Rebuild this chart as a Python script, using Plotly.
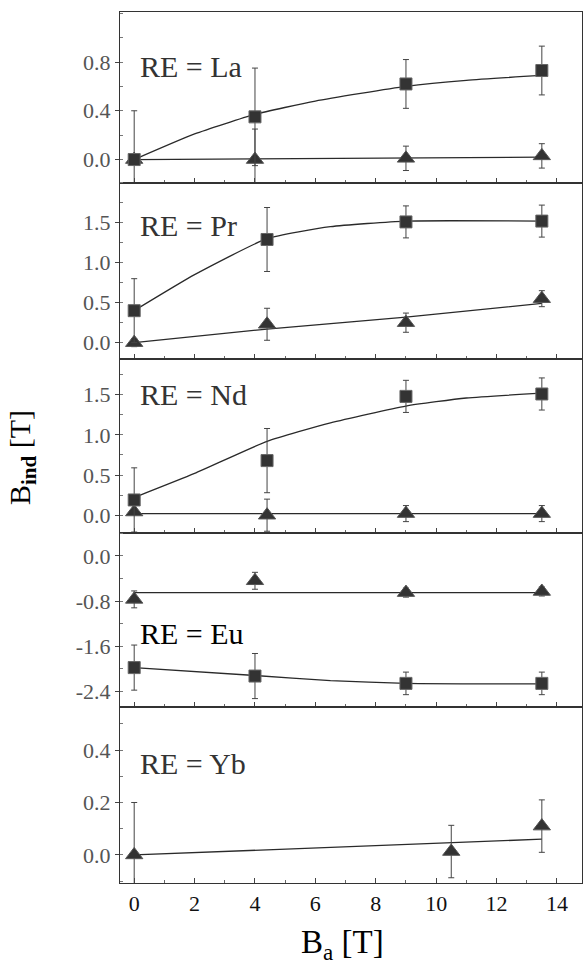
import plotly.graph_objects as go
from plotly.subplots import make_subplots

# ---------------- data ----------------
LA_X = [0, 4, 9, 13.5]
LA_SQ = [0.0, 0.35, 0.62, 0.73]
LA_SQ_ERR = [0.4, 0.4, 0.2, 0.2]
LA_TRI = [0.0, 0.0, 0.01, 0.03]
LA_TRI_ERR = [0.0, 0.25, 0.1, 0.1]
LA_FIT_X = [0, 2, 4, 6, 9, 11, 13.5]
LA_FIT_SQ = [0.0, 0.21, 0.37, 0.48, 0.6, 0.65, 0.69]
LA_FIT_TRI_X = [0, 13.5]
LA_FIT_TRI = [0.0, 0.02]

PR_X = [0, 4.4, 9, 13.5]
PR_SQ = [0.40, 1.29, 1.51, 1.52]
PR_SQ_ERR = [0.4, 0.4, 0.2, 0.2]
PR_TRI = [0.0, 0.23, 0.25, 0.55]
PR_TRI_ERR = [0.05, 0.2, 0.12, 0.1]
PR_FIT_X = [0, 2, 4.4, 6.5, 9, 13.5]
PR_FIT_SQ = [0.4, 0.85, 1.3, 1.45, 1.52, 1.52]
PR_FIT_TRI_X = [0, 4.4, 9, 13.5]
PR_FIT_TRI = [0.0, 0.17, 0.32, 0.49]

ND_X = [0, 4.4, 9, 13.5]
ND_SQ = [0.19, 0.68, 1.48, 1.51]
ND_SQ_ERR = [0.4, 0.4, 0.2, 0.2]
ND_TRI = [0.04, 0.0, 0.02, 0.02]
ND_TRI_ERR = [0.0, 0.2, 0.1, 0.1]
ND_FIT_X = [0, 2, 4.4, 6.5, 9, 11, 13.5]
ND_FIT_SQ = [0.22, 0.52, 0.92, 1.15, 1.36, 1.46, 1.52]
ND_FIT_TRI_X = [0, 13.5]
ND_FIT_TRI = [0.02, 0.02]

EU_X = [0, 4, 9, 13.5]
EU_SQ = [-1.98, -2.13, -2.26, -2.26]
EU_SQ_ERR = [0.4, 0.4, 0.2, 0.2]
EU_TRI = [-0.77, -0.44, -0.65, -0.63]
EU_TRI_ERR = [0.15, 0.15, 0.08, 0.08]
EU_FIT_X = [0, 4, 6.5, 9, 13.5]
EU_FIT_SQ = [-1.98, -2.12, -2.21, -2.26, -2.27]
EU_FIT_TRI_X = [0, 13.5]
EU_FIT_TRI = [-0.65, -0.65]

YB_X = [0, 10.5, 13.5]
YB_TRI = [0.0, 0.013, 0.11]
YB_TRI_ERR = [0.2, 0.1, 0.1]
YB_FIT_X = [0, 13.5]
YB_FIT_TRI = [0.0, 0.06]

LABELS = ["RE = La", "RE = Pr", "RE = Nd", "RE = Eu", "RE = Yb"]
Y_RANGES = [[-0.19, 1.21], [-0.2, 2.0], [-0.22, 1.95], [-2.68, 0.41], [-0.107, 0.564]]
Y_TICKS = [[0.0, 0.4, 0.8], [0.0, 0.5, 1.0, 1.5], [0.0, 0.5, 1.0, 1.5],
           [0.0, -0.8, -1.6, -2.4], [0.0, 0.2, 0.4]]
Y_MINOR = [0.2, 0.25, 0.25, 0.4, 0.1]
X_TICKS = [0, 2, 4, 6, 8, 10, 12, 14]

panels = [
    dict(x=LA_X, sq=LA_SQ, sqe=LA_SQ_ERR, tri=LA_TRI, trie=LA_TRI_ERR,
         fx=LA_FIT_X, fsq=LA_FIT_SQ, ftx=LA_FIT_TRI_X, ftri=LA_FIT_TRI),
    dict(x=PR_X, sq=PR_SQ, sqe=PR_SQ_ERR, tri=PR_TRI, trie=PR_TRI_ERR,
         fx=PR_FIT_X, fsq=PR_FIT_SQ, ftx=PR_FIT_TRI_X, ftri=PR_FIT_TRI),
    dict(x=ND_X, sq=ND_SQ, sqe=ND_SQ_ERR, tri=ND_TRI, trie=ND_TRI_ERR,
         fx=ND_FIT_X, fsq=ND_FIT_SQ, ftx=ND_FIT_TRI_X, ftri=ND_FIT_TRI),
    dict(x=EU_X, sq=EU_SQ, sqe=EU_SQ_ERR, tri=EU_TRI, trie=EU_TRI_ERR,
         fx=EU_FIT_X, fsq=EU_FIT_SQ, ftx=EU_FIT_TRI_X, ftri=EU_FIT_TRI),
    dict(x=YB_X, sq=None, sqe=None, tri=YB_TRI, trie=YB_TRI_ERR,
         fx=None, fsq=None, ftx=YB_FIT_X, ftri=YB_FIT_TRI),
]

# ---------------- figure ----------------
W, H = 583, 971
ML, MR, MT, MB = 120, 1, 12, 88
SERIF = "Liberation Serif"
INK = "#2a2a2a"

fig = make_subplots(rows=5, cols=1, shared_xaxes=True, vertical_spacing=0)

domains = [[0.804, 1.0], [0.602, 0.804], [0.402, 0.602], [0.202, 0.402], [0.0, 0.202]]

for i, p in enumerate(panels):
    r = i + 1
    if p["fx"] is not None:
        fig.add_trace(go.Scatter(x=p["fx"], y=p["fsq"], mode="lines",
                                 line=dict(color=INK, width=1.3, shape="spline", smoothing=0.5),
                                 showlegend=False, hoverinfo="skip"), row=r, col=1)
    fig.add_trace(go.Scatter(x=p["ftx"], y=p["ftri"], mode="lines",
                             line=dict(color=INK, width=1.3, shape="spline", smoothing=0.5),
                             showlegend=False, hoverinfo="skip"), row=r, col=1)
    fig.add_trace(go.Scatter(x=p["x"], y=p["tri"], mode="markers",
                             marker=dict(symbol="triangle-up", size=15, color="#333333",
                                         line=dict(color="#555555", width=1)),
                             error_y=dict(type="data", array=p["trie"], color="#444444",
                                          thickness=1, width=3),
                             showlegend=False), row=r, col=1)
    if p["sq"] is not None:
        fig.add_trace(go.Scatter(x=p["x"], y=p["sq"], mode="markers",
                                 marker=dict(symbol="square", size=12, color="#333333",
                                             line=dict(color="#666666", width=1)),
                                 error_y=dict(type="data", array=p["sqe"], color="#444444",
                                              thickness=1, width=3),
                                 showlegend=False), row=r, col=1)

    fig.update_yaxes(row=r, col=1, domain=domains[i], range=Y_RANGES[i],
                     tickvals=Y_TICKS[i], ticktext=["%.1f" % v for v in Y_TICKS[i]],
                     ticks="outside", ticklen=4, tickwidth=1, tickcolor="#444",
                     minor=dict(dtick=Y_MINOR[i], ticks="inside", ticklen=3, tickcolor="#777"),
                     showline=True, linecolor="#333", linewidth=1.2, mirror=True,
                     showgrid=False, zeroline=False,
                     tickfont=dict(family=SERIF, size=22, color="#555555"))
    fig.update_xaxes(row=r, col=1, range=[-0.47, 14.83], tickvals=X_TICKS,
                     ticks="inside", ticklen=5, tickwidth=1, tickcolor="#444",
                     minor=dict(dtick=1, ticks="inside", ticklen=3, tickcolor="#666"),
                     showline=True, linecolor="#333", linewidth=1.2, mirror=True,
                     showgrid=False, zeroline=False,
                     showticklabels=(r == 5),
                     tickfont=dict(family=SERIF, size=22, color="#111111"))

# panel labels
PW = W - ML - MR
PH = H - MT - MB
label_px_y = [66, 225, 394, 633, 763]
for lab, py in zip(LABELS, label_px_y):
    fig.add_annotation(text=lab, xref="paper", yref="paper",
                       x=(138 - ML) / PW, y=(H - MB - py) / PH,
                       xanchor="left", yanchor="middle", showarrow=False,
                       font=dict(family=SERIF, size=30,
                                 color="#000000" if lab.endswith("Eu") else "#333333"))

# axis titles
fig.add_annotation(text="B<sub><b>ind</b></sub> [T]", xref="paper", yref="paper",
                   x=(22 - ML) / PW, y=(H - MB - 458) / PH, textangle=-90,
                   xanchor="center", yanchor="middle", showarrow=False,
                   font=dict(family=SERIF, size=30, color="#000"))
fig.add_annotation(text="B<sub>a</sub> [T]", xref="paper", yref="paper",
                   x=(342 - ML) / PW, y=(H - MB - 944) / PH,
                   xanchor="center", yanchor="middle", showarrow=False,
                   font=dict(family=SERIF, size=33, color="#000"))

fig.update_layout(width=W, height=H, margin=dict(l=ML, r=MR, t=MT, b=MB),
                  paper_bgcolor="white", plot_bgcolor="white",
                  font=dict(family=SERIF), showlegend=False)

fig.write_html("out.html")
